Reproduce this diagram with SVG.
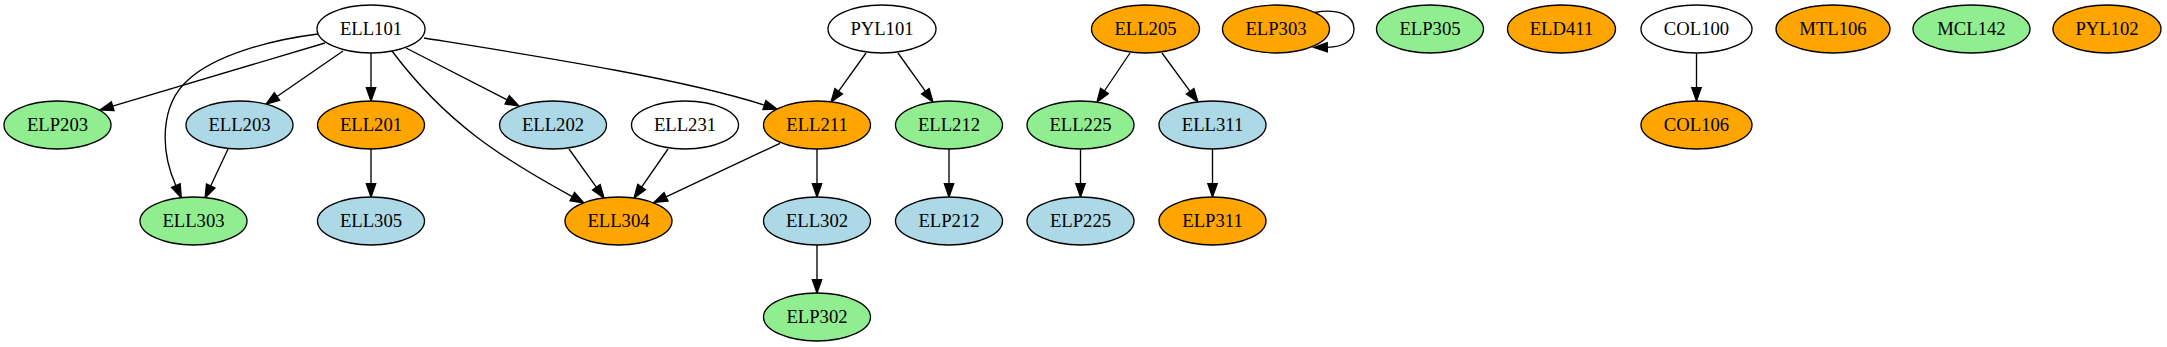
<svg xmlns="http://www.w3.org/2000/svg" width="2167" height="347" viewBox="0 0 2167 347">
<style>
.n ellipse{stroke:#000;stroke-width:1.33}
.w ellipse{fill:#fff}
.o ellipse{fill:#ffa500}
.g ellipse{fill:#90ee90}
.b ellipse{fill:#add8e6}
.n text{font-family:"Liberation Serif","Times New Roman",serif;font-size:18.67px;text-anchor:middle;fill:#000}
.e path{fill:none;stroke:#000;stroke-width:1.33;marker-end:url(#ah)}
</style>
<defs>
<marker id="ah" markerUnits="userSpaceOnUse" markerWidth="14" markerHeight="10" refX="0" refY="4.67" orient="auto" overflow="visible">
<path d="M0,0 L13.3,4.67 L0,9.33 Z" fill="#000" stroke="#000" stroke-width="1.33"/>
</marker>
</defs>
<rect width="2167" height="347" fill="#fff"/>
<g id="edges" class="e">
<path d="M325,43 L112.7,106.2"/>
<path d="M318,34 C270,40 215,55 188,80 C160,105 160,150 175.9,185.7"/>
<path d="M343,51 L277,96.5"/>
<path d="M371,53 L371,87.7"/>
<path d="M406,48 L507.2,99.9"/>
<path d="M424,38 C530,55 680,78 764.4,105.1"/>
<path d="M392,51 C446,123 502,158.3 572.3,196.6"/>
<path d="M228,149 L210.7,186"/>
<path d="M371,149 L371,183.7"/>
<path d="M569,149 L596.3,187.2"/>
<path d="M668,149 L641.6,187.1"/>
<path d="M780,143.3 L666,196.8"/>
<path d="M817,149 L817,183.7"/>
<path d="M817,245 L817,279.7"/>
<path d="M866,53 L838.7,91.2"/>
<path d="M898,53 L925.3,91.2"/>
<path d="M949,149 L949,183.7"/>
<path d="M1130,53 L1104.4,91"/>
<path d="M1162,53 L1190.1,91.3"/>
<path d="M1080.5,149 L1080.5,183.7"/>
<path d="M1212.5,149 L1212.5,183.7"/>
<path d="M1314.5,12.5 C1338,8 1354,15 1354,29 C1354,41 1343,47 1327.3,47.3"/>
<path d="M1696.5,53 L1696.5,87.7"/>
</g>
<g id="ELL101" class="n w"><ellipse cx="371" cy="29" rx="54" ry="24"/><text x="371" y="34.5">ELL101</text></g>
<g id="PYL101" class="n w"><ellipse cx="882" cy="29" rx="54" ry="24"/><text x="882" y="34.5">PYL101</text></g>
<g id="ELL205" class="n o"><ellipse cx="1145.5" cy="29" rx="54" ry="24"/><text x="1145.5" y="34.5">ELL205</text></g>
<g id="ELP303" class="n o"><ellipse cx="1276" cy="29" rx="53.5" ry="24"/><text x="1276" y="34.5">ELP303</text></g>
<g id="ELP305" class="n g"><ellipse cx="1430" cy="29" rx="53.5" ry="24"/><text x="1430" y="34.5">ELP305</text></g>
<g id="ELD411" class="n o"><ellipse cx="1561.5" cy="29" rx="54" ry="24"/><text x="1561.5" y="34.5">ELD411</text></g>
<g id="COL100" class="n w"><ellipse cx="1696.5" cy="29" rx="55.5" ry="24"/><text x="1696.5" y="34.5">COL100</text></g>
<g id="MTL106" class="n o"><ellipse cx="1833" cy="29" rx="57" ry="24"/><text x="1833" y="34.5">MTL106</text></g>
<g id="MCL142" class="n g"><ellipse cx="1971.5" cy="29" rx="58.5" ry="24"/><text x="1971.5" y="34.5">MCL142</text></g>
<g id="PYL102" class="n o"><ellipse cx="2107" cy="29" rx="54" ry="24"/><text x="2107" y="34.5">PYL102</text></g>
<g id="ELP203" class="n g"><ellipse cx="57.5" cy="125" rx="53.5" ry="24"/><text x="57.5" y="130.5">ELP203</text></g>
<g id="ELL203" class="n b"><ellipse cx="239.5" cy="125" rx="53.5" ry="24"/><text x="239.5" y="130.5">ELL203</text></g>
<g id="ELL201" class="n o"><ellipse cx="371" cy="125" rx="53.5" ry="24"/><text x="371" y="130.5">ELL201</text></g>
<g id="ELL202" class="n b"><ellipse cx="553" cy="125" rx="53.5" ry="24"/><text x="553" y="130.5">ELL202</text></g>
<g id="ELL231" class="n w"><ellipse cx="685" cy="125" rx="53.5" ry="24"/><text x="685" y="130.5">ELL231</text></g>
<g id="ELL211" class="n o"><ellipse cx="817" cy="125" rx="53.5" ry="24"/><text x="817" y="130.5">ELL211</text></g>
<g id="ELL212" class="n g"><ellipse cx="949" cy="125" rx="53.5" ry="24"/><text x="949" y="130.5">ELL212</text></g>
<g id="ELL225" class="n g"><ellipse cx="1080.5" cy="125" rx="53.5" ry="24"/><text x="1080.5" y="130.5">ELL225</text></g>
<g id="ELL311" class="n b"><ellipse cx="1212.5" cy="125" rx="53.5" ry="24"/><text x="1212.5" y="130.5">ELL311</text></g>
<g id="COL106" class="n o"><ellipse cx="1696.5" cy="125" rx="55.5" ry="24"/><text x="1696.5" y="130.5">COL106</text></g>
<g id="ELL303" class="n g"><ellipse cx="193.5" cy="221" rx="53.5" ry="24"/><text x="193.5" y="226.5">ELL303</text></g>
<g id="ELL305" class="n b"><ellipse cx="371" cy="221" rx="53.5" ry="24"/><text x="371" y="226.5">ELL305</text></g>
<g id="ELL304" class="n o"><ellipse cx="618.5" cy="221" rx="53.5" ry="24"/><text x="618.5" y="226.5">ELL304</text></g>
<g id="ELL302" class="n b"><ellipse cx="817" cy="221" rx="53.5" ry="24"/><text x="817" y="226.5">ELL302</text></g>
<g id="ELP212" class="n b"><ellipse cx="949" cy="221" rx="53.5" ry="24"/><text x="949" y="226.5">ELP212</text></g>
<g id="ELP225" class="n b"><ellipse cx="1080.5" cy="221" rx="53.5" ry="24"/><text x="1080.5" y="226.5">ELP225</text></g>
<g id="ELP311" class="n o"><ellipse cx="1212.5" cy="221" rx="53.5" ry="24"/><text x="1212.5" y="226.5">ELP311</text></g>
<g id="ELP302" class="n g"><ellipse cx="817" cy="317" rx="53.5" ry="24"/><text x="817" y="322.5">ELP302</text></g>
</svg>
